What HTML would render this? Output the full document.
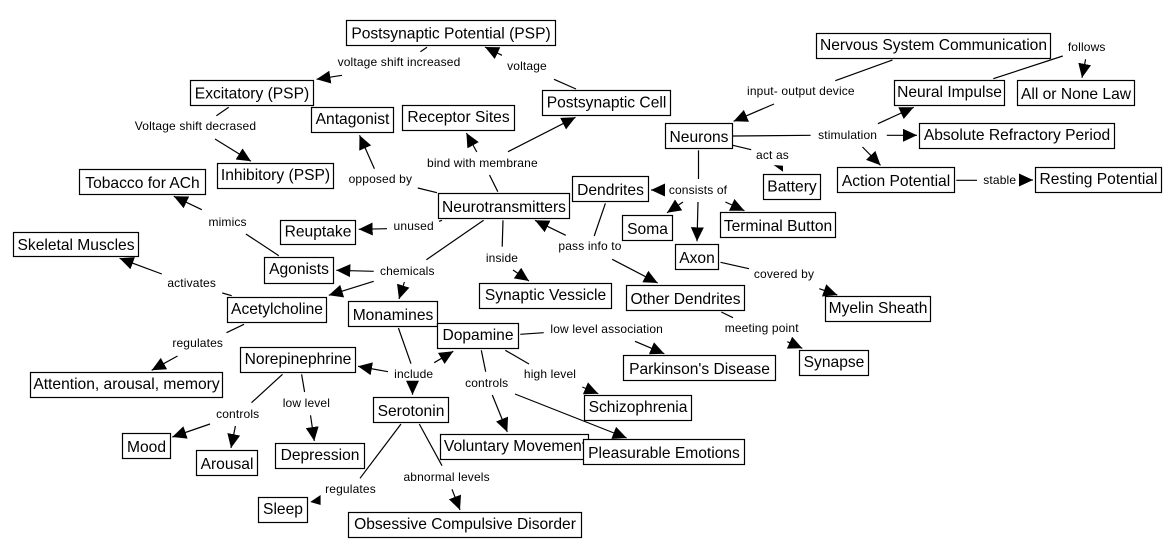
<!DOCTYPE html>
<html><head><meta charset="utf-8"><style>
html,body{margin:0;padding:0;background:#fff;width:1172px;height:557px;overflow:hidden}
svg{display:block}
text{font-family:"Liberation Sans",Arial,sans-serif;fill:#000}
.n rect{fill:#fff;stroke:#000;stroke-width:1.2}
.n text{font-size:15.6px;text-anchor:middle}
.l text{font-size:12px;text-anchor:middle;letter-spacing:.15px}
.c line{stroke:#000;stroke-width:1.2}
.a line{stroke:#000;stroke-width:1.2;marker-end:url(#h)}
</style></head><body>
<svg width="1172" height="557" viewBox="0 0 1172 557" xmlns="http://www.w3.org/2000/svg">
<defs><marker id="h" markerUnits="userSpaceOnUse" markerWidth="16" markerHeight="14" refX="14" refY="6.5" orient="auto"><path d="M0,0 L14,6.5 L0,13 z" fill="#000"/></marker></defs>
<g class="c">
<line x1="420.4" y1="51.7" x2="427" y2="47.3"/>
<line x1="576" y1="89" x2="554" y2="79.3"/>
<line x1="228.7" y1="107.3" x2="216.4" y2="115.7"/>
<line x1="437" y1="192.7" x2="417.8" y2="188"/>
<line x1="497.8" y1="191.7" x2="489.5" y2="175"/>
<line x1="442" y1="220.3" x2="439" y2="221.3"/>
<line x1="483.6" y1="220.3" x2="426.4" y2="259.7"/>
<line x1="278.8" y1="255.7" x2="245.9" y2="234"/>
<line x1="231.7" y1="295.7" x2="222.3" y2="293"/>
<line x1="503" y1="220.3" x2="502.2" y2="246.7"/>
<line x1="244" y1="324.3" x2="226.5" y2="332.7"/>
<line x1="398.4" y1="328" x2="411" y2="363.7"/>
<line x1="520.3" y1="334.3" x2="543.7" y2="332.7"/>
<line x1="721.3" y1="312" x2="733" y2="317.7"/>
<line x1="505.3" y1="350.3" x2="529" y2="364"/>
<line x1="481.3" y1="350.3" x2="485.7" y2="371.7"/>
<line x1="282.5" y1="374.3" x2="251.5" y2="402.7"/>
<line x1="301.6" y1="374.3" x2="304.6" y2="392"/>
<line x1="401" y1="424" x2="360" y2="478.3"/>
<line x1="419.3" y1="424" x2="442" y2="465.7"/>
<line x1="892.4" y1="60" x2="835.3" y2="80.7"/>
<line x1="732.9" y1="136" x2="810.6" y2="135.3"/>
<line x1="956.3" y1="180.3" x2="977" y2="180.3"/>
<line x1="993.3" y1="78.7" x2="1062.8" y2="56"/>
<line x1="732.9" y1="145.3" x2="751.2" y2="149.7"/>
<line x1="698.5" y1="150.3" x2="698.5" y2="179"/>
<line x1="720.5" y1="262.3" x2="749" y2="268.7"/>
<line x1="605.4" y1="203.3" x2="594.2" y2="236"/>
</g>
<g class="a">
<line x1="342" y1="75.3" x2="316.5" y2="79.3"/>
<line x1="502" y1="55.3" x2="485" y2="47"/>
<line x1="215" y1="139" x2="251" y2="161.3"/>
<line x1="374.4" y1="168.7" x2="359.5" y2="135.3"/>
<line x1="476.8" y1="152" x2="466.4" y2="133"/>
<line x1="508" y1="151.7" x2="575.5" y2="117.3"/>
<line x1="387" y1="228.7" x2="358.7" y2="229.3"/>
<line x1="373.7" y1="271.3" x2="336.3" y2="270.3"/>
<line x1="201.8" y1="209.7" x2="173.8" y2="196.3"/>
<line x1="161.8" y1="274" x2="119.6" y2="258.3"/>
<line x1="373.7" y1="281.3" x2="328.8" y2="295.3"/>
<line x1="404.4" y1="282" x2="399" y2="299"/>
<line x1="513" y1="270" x2="529" y2="281"/>
<line x1="177.5" y1="356" x2="151.7" y2="370.3"/>
<line x1="434.2" y1="362.7" x2="453.3" y2="351.3"/>
<line x1="388" y1="371.7" x2="358" y2="366.3"/>
<line x1="412.5" y1="384" x2="412.5" y2="394.7"/>
<line x1="635" y1="341.3" x2="664.3" y2="353.7"/>
<line x1="787.3" y1="341.7" x2="802.3" y2="348.3"/>
<line x1="582.3" y1="387" x2="598.3" y2="393.7"/>
<line x1="492.3" y1="395" x2="507.3" y2="432"/>
<line x1="515" y1="394" x2="626.7" y2="438"/>
<line x1="310.5" y1="415.3" x2="314.3" y2="441"/>
<line x1="210" y1="424" x2="172.3" y2="437"/>
<line x1="235.4" y1="426" x2="231" y2="448"/>
<line x1="452" y1="489.3" x2="460" y2="510"/>
<line x1="774" y1="104" x2="733.6" y2="121.3"/>
<line x1="877.9" y1="123.7" x2="913.7" y2="107.3"/>
<line x1="886.8" y1="135.3" x2="917" y2="135.3"/>
<line x1="862.5" y1="147" x2="880.5" y2="165.3"/>
<line x1="1022.5" y1="180" x2="1033" y2="180"/>
<line x1="1085.6" y1="59.3" x2="1082" y2="77.7"/>
<line x1="662.2" y1="190" x2="651" y2="190"/>
<line x1="683" y1="202" x2="667" y2="212.7"/>
<line x1="698" y1="202" x2="697" y2="241.3"/>
<line x1="725.4" y1="202" x2="744.4" y2="210.7"/>
<line x1="819.3" y1="288.7" x2="837.3" y2="295"/>
<line x1="612.2" y1="259.3" x2="657.7" y2="283"/>
<line x1="565.8" y1="235.3" x2="535" y2="220.3"/>
</g>
<polygon points="773.6,165 783,165.7 783,171.7" fill="#000"/>
<polygon points="320.6,495 310.2,502 320.6,505" fill="#000"/>
<g class="n">
<rect x="346.5" y="20.5" width="209" height="25"/><text x="451" y="38.5">Postsynaptic Potential (PSP)</text>
<rect x="190.5" y="80.5" width="123" height="25"/><text x="252" y="98.5">Excitatory (PSP)</text>
<rect x="311.5" y="107.5" width="82" height="25"/><text x="352.5" y="124">Antagonist</text>
<rect x="402.5" y="105.5" width="112" height="25"/><text x="458.5" y="122">Receptor Sites</text>
<rect x="542.5" y="90.5" width="128" height="25"/><text x="606.5" y="107.5">Postsynaptic Cell</text>
<rect x="217.5" y="163.5" width="116" height="25"/><text x="275.5" y="180">Inhibitory (PSP)</text>
<rect x="79.5" y="169.5" width="126" height="25"/><text x="142.5" y="188">Tobacco for ACh</text>
<rect x="13.5" y="232.5" width="125" height="24"/><text x="76" y="250">Skeletal Muscles</text>
<rect x="438.5" y="193.5" width="131" height="25"/><text x="504" y="212">Neurotransmitters</text>
<rect x="280.5" y="220.5" width="75" height="24"/><text x="318" y="236.5">Reuptake</text>
<rect x="264.5" y="257.5" width="69" height="26"/><text x="299" y="274">Agonists</text>
<rect x="816.5" y="33.5" width="234" height="25"/><text x="933.5" y="50">Nervous System Communication</text>
<rect x="894.5" y="80.5" width="110" height="25"/><text x="949.5" y="97">Neural Impulse</text>
<rect x="1017.5" y="80.5" width="117" height="25"/><text x="1076" y="99">All or None Law</text>
<rect x="665.5" y="123.5" width="67" height="25"/><text x="699" y="142">Neurons</text>
<rect x="919.5" y="123.5" width="195" height="25"/><text x="1017" y="140">Absolute Refractory Period</text>
<rect x="837.5" y="167.5" width="117" height="25"/><text x="896" y="186">Action Potential</text>
<rect x="1035.5" y="167.5" width="126" height="25"/><text x="1098.5" y="184">Resting Potential</text>
<rect x="763.5" y="174.5" width="57" height="25"/><text x="792" y="191.5">Battery</text>
<rect x="572.5" y="176.5" width="76" height="25"/><text x="610.5" y="195">Dendrites</text>
<rect x="622.5" y="215.5" width="50" height="25"/><text x="647.5" y="234">Soma</text>
<rect x="720.5" y="212.5" width="115" height="25"/><text x="778" y="231">Terminal Button</text>
<rect x="675.5" y="244.5" width="43" height="25"/><text x="697" y="263">Axon</text>
<rect x="479.5" y="283.5" width="132" height="25"/><text x="545.5" y="300">Synaptic Vessicle</text>
<rect x="626.5" y="285.5" width="118" height="25"/><text x="685.5" y="304">Other Dendrites</text>
<rect x="825.5" y="296.5" width="105" height="25"/><text x="878" y="313">Myelin Sheath</text>
<rect x="227.5" y="297.5" width="99" height="25"/><text x="277" y="314">Acetylcholine</text>
<rect x="348.5" y="301.5" width="89" height="25"/><text x="393" y="320">Monamines</text>
<rect x="437.5" y="323.5" width="81" height="25"/><text x="478" y="340">Dopamine</text>
<rect x="623.5" y="355.5" width="152" height="25"/><text x="699.5" y="374">Parkinson's Disease</text>
<rect x="799.5" y="350.5" width="69" height="25"/><text x="834" y="367">Synapse</text>
<rect x="240.5" y="347.5" width="115" height="25"/><text x="298" y="364">Norepinephrine</text>
<rect x="30.5" y="372.5" width="192" height="25"/><text x="126.5" y="389">Attention, arousal, memory</text>
<rect x="373.5" y="397.5" width="75" height="25"/><text x="411" y="416">Serotonin</text>
<rect x="584.5" y="395.5" width="107" height="25"/><text x="638" y="412">Schizophrenia</text>
<rect x="440.5" y="434.5" width="148" height="25"/><text x="515" y="451">Voluntary Movement</text>
<rect x="583.5" y="439.5" width="161" height="25"/><text x="664" y="458">Pleasurable Emotions</text>
<rect x="122.5" y="433.5" width="48" height="25"/><text x="146.5" y="452">Mood</text>
<rect x="196.5" y="450.5" width="61" height="25"/><text x="227" y="469">Arousal</text>
<rect x="275.5" y="443.5" width="89" height="25"/><text x="320" y="460">Depression</text>
<rect x="258.5" y="497.5" width="49" height="25"/><text x="283" y="514">Sleep</text>
<rect x="348.5" y="512.5" width="233" height="25"/><text x="465" y="529">Obsessive Compulsive Disorder</text>
</g>
<g class="l">
<text x="399" y="66">voltage shift increased</text>
<text x="527" y="70">voltage</text>
<text x="195.5" y="130">Voltage shift decrased</text>
<text x="482.4" y="167">bind with membrane</text>
<text x="380.4" y="183">opposed by</text>
<text x="227.6" y="226">mimics</text>
<text x="413.7" y="230">unused</text>
<text x="590" y="250">pass info to</text>
<text x="502" y="262">inside</text>
<text x="407.3" y="275">chemicals</text>
<text x="191.7" y="287">activates</text>
<text x="197.7" y="347">regulates</text>
<text x="606.7" y="333">low level association</text>
<text x="761.7" y="332">meeting point</text>
<text x="550" y="378">high level</text>
<text x="486.7" y="387">controls</text>
<text x="413.7" y="378">include</text>
<text x="306.4" y="407">low level</text>
<text x="237.7" y="418">controls</text>
<text x="446.6" y="481">abnormal levels</text>
<text x="350.5" y="493">regulates</text>
<text x="800.9" y="95">input- output device</text>
<text x="1086.7" y="51">follows</text>
<text x="847.6" y="139">stimulation</text>
<text x="772.5" y="159">act as</text>
<text x="999.7" y="184">stable</text>
<text x="698" y="194">consists of</text>
<text x="784" y="278">covered by</text>
</g>
</svg>
</body></html>
